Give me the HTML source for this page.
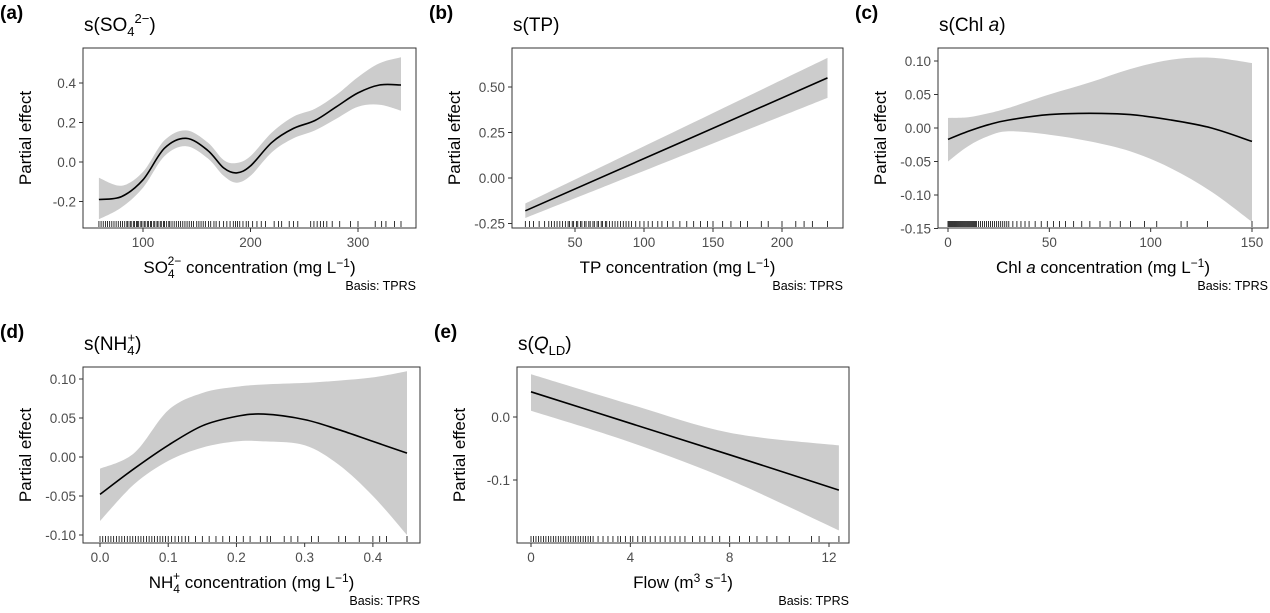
<!DOCTYPE html>
<html><head><meta charset="utf-8"><style>
body{margin:0;background:#fff;width:1270px;height:608px;overflow:hidden}
svg{font-family:"Liberation Sans",Arial,sans-serif}
.tk{fill:#4d4d4d;font-size:13.5px}
.ax{fill:#000;font-size:17px}
.tt{fill:#000;font-size:19px}
.pl{fill:#000;font-size:19px;font-weight:bold}
.bs{fill:#000;font-size:12.5px}
</style></head><body>
<svg id="c" width="1270" height="608" xmlns="http://www.w3.org/2000/svg"></svg>
<script>
// Panel (a) SO4
const aX=[59,80,100,120,140,160,175,187,200,220,240,260,280,300,320,340];
const aFit=[-0.19,-0.175,-0.09,0.07,0.12,0.06,-0.03,-0.055,-0.02,0.1,0.17,0.21,0.28,0.35,0.39,0.39];
const aLo=[-0.29,-0.23,-0.13,0.03,0.08,0.02,-0.07,-0.105,-0.07,0.05,0.12,0.16,0.22,0.28,0.29,0.26];
const aHi=[-0.08,-0.12,-0.05,0.11,0.16,0.1,0.01,-0.005,0.03,0.15,0.23,0.27,0.34,0.43,0.5,0.53];
const aRug=[59,61,63,65,67,69,71,73,75,77,79,81,83,85,86,88,89,91,92,94,95,96,98,99,101,102,104,105,107,108,110,111,113,114,116,117,119,120,122,124,125,127,129,131,133,135,137,139,141,143,145,147,150,152,154,156,158,161,163,166,168,171,175,178,181,184,186,188,190,193,196,198,202,206,210,214,222,226,229,236,240,244,256,259,262,265,268,271,276,283,293,300,316,322,326,334,340];
const aXT=[100,200,300], aYT=[-0.2,0,0.2,0.4];
// Panel (b) TP
const bX=[14,233];
const bFit=[-0.18,0.55];
const bLo=[-0.22,0.44];
const bHi=[-0.14,0.66];
const bRug=[14,17,20,24,28,31,33,35,37,39,41,43,45,46,48,49,51,52,54,55,57,58,60,61,63,64,66,67,69,70,72,73,75,77,79,81,83,85,87,89,91,94,97,100,103,106,110,113,117,121,126,131,136,141,146,150,157,163,170,175,185,190,200,210,216,222,233];
const bXT=[50,100,150,200], bYT=[-0.25,0,0.25,0.5];
// Panel (c) Chl a
const cX=[0,10,20,30,50,70,90,110,130,150];
const cFit=[-0.017,-0.005,0.005,0.012,0.02,0.022,0.02,0.012,0.0,-0.02];
const cLo=[-0.05,-0.027,-0.012,-0.005,-0.01,-0.02,-0.035,-0.06,-0.095,-0.14];
const cHi=[0.015,0.016,0.022,0.03,0.05,0.068,0.088,0.102,0.105,0.097];
const cRug=[0,0.5,1,1.5,2,2.5,3,3.5,4,4.5,5,5.5,6,6.5,7,7.5,8,8.5,9,9.5,10,10.5,11,11.5,12,12.5,13,13.5,14,15,16,17,18,19,20,21,22,23,24,25,26,27,28,29,30,32,34,36,38,40,43,46,49,52,55,58,62,66,70,75,80,85,90,97,103,115,118,128,150];
const cXT=[0,50,100,150], cYT=[-0.15,-0.1,-0.05,0,0.05,0.1];
// Panel (d) NH4
const dX=[0,0.05,0.1,0.15,0.2,0.24,0.3,0.35,0.4,0.45];
const dFit=[-0.048,-0.015,0.015,0.04,0.052,0.055,0.048,0.035,0.02,0.005];
const dLo=[-0.082,-0.035,-0.005,0.012,0.02,0.02,0.015,-0.01,-0.05,-0.1];
const dHi=[-0.015,0.005,0.06,0.082,0.09,0.093,0.095,0.098,0.102,0.11];
const dRug=[0,0.004,0.008,0.012,0.016,0.02,0.024,0.028,0.032,0.036,0.04,0.044,0.048,0.052,0.056,0.06,0.064,0.068,0.072,0.076,0.08,0.084,0.088,0.092,0.096,0.1,0.105,0.11,0.115,0.12,0.125,0.13,0.14,0.15,0.16,0.17,0.18,0.19,0.2,0.21,0.22,0.235,0.245,0.25,0.27,0.28,0.29,0.31,0.32,0.35,0.36,0.38,0.4,0.41,0.42,0.45];
const dXT=[0,0.1,0.2,0.3,0.4], dYT=[-0.1,-0.05,0,0.05,0.1];
// Panel (e) Flow
const eX=[0,4,8,12.4];
const eFit=[0.04,-0.01,-0.06,-0.116];
const eLo=[0.01,-0.04,-0.1,-0.18];
const eHi=[0.068,0.02,-0.025,-0.045];
const eRug=[0,0.1,0.2,0.3,0.4,0.5,0.6,0.7,0.8,0.9,1,1.1,1.2,1.3,1.4,1.5,1.6,1.7,1.8,1.9,2,2.1,2.2,2.3,2.4,2.5,2.7,2.9,3.1,3.3,3.5,3.6,3.8,4,4.1,4.3,4.5,4.6,4.8,5,5.2,5.4,5.6,5.8,6,6.2,6.5,6.8,7,7.3,7.6,8,8.4,8.8,9.1,9.5,9.9,10.4,11.3,11.6,12.4];
const eXT=[0,4,8,12], eYT=[-0.1,0];

const NS='http://www.w3.org/2000/svg';
const svg=document.getElementById('c');
function mk(tag,attrs,parent){const e=document.createElementNS(NS,tag);for(const k in attrs)e.setAttribute(k,attrs[k]);(parent||svg).appendChild(e);return e;}
function lin(d0,d1,p0,p1){return v=>p0+(v-d0)*(p1-p0)/(d1-d0);}
function smooth(pts,start){
 let fd=(start?'M':'L')+pts[0][0].toFixed(1)+','+pts[0][1].toFixed(1);
 for(let i=0;i<pts.length-1;i++){const p0=pts[Math.max(0,i-1)],p1=pts[i],p2=pts[i+1],p3=pts[Math.min(pts.length-1,i+2)];
  fd+='C'+(p1[0]+(p2[0]-p0[0])/6).toFixed(1)+','+(p1[1]+(p2[1]-p0[1])/6).toFixed(1)+' '+(p2[0]-(p3[0]-p1[0])/6).toFixed(1)+','+(p2[1]-(p3[1]-p1[1])/6).toFixed(1)+' '+p2[0].toFixed(1)+','+p2[1].toFixed(1);}
 return fd;}

const panels=[
 {id:'a',L:83,R:416,T:48,B:228,xs:lin(100,300,143,358),ys:lin(0,0.4,162,83),X:aX,F:aFit,Lo:aLo,Hi:aHi,Rug:aRug,XT:aXT,YT:aYT,xd:0,yd:1,
  title:'s(SO<tspan font-size="13" dy="5">4</tspan><tspan font-size="13" dy="-13">2−</tspan><tspan dy="8">)</tspan>',
  xl:'SO<tspan font-size="12" dy="5">4</tspan><tspan font-size="12" dx="-7" dy="-13">2−</tspan><tspan dy="8"> concentration (mg L</tspan><tspan font-size="12" dy="-6">−1</tspan><tspan dy="6">)</tspan>'},
 {id:'b',L:512,R:843,T:48,B:228,xs:lin(50,200,575,782),ys:lin(0,0.5,178,87),X:bX,F:bFit,Lo:bLo,Hi:bHi,Rug:bRug,XT:bXT,YT:bYT,xd:0,yd:2,
  title:'s(TP)',xl:'TP concentration (mg L<tspan font-size="12" dy="-6">−1</tspan><tspan dy="6">)</tspan>'},
 {id:'c',L:938,R:1268,T:48,B:228,xs:lin(0,150,948,1252),ys:lin(0,0.1,128,61),X:cX,F:cFit,Lo:cLo,Hi:cHi,Rug:cRug,XT:cXT,YT:cYT,xd:0,yd:2,
  title:'s(Chl <tspan font-style="italic">a</tspan>)',xl:'Chl <tspan font-style="italic">a</tspan> concentration (mg L<tspan font-size="12" dy="-6">−1</tspan><tspan dy="6">)</tspan>'},
 {id:'d',L:83,R:420,T:367,B:543,xs:lin(0,0.45,100,407),ys:lin(0,0.1,457,379),X:dX,F:dFit,Lo:dLo,Hi:dHi,Rug:dRug,XT:dXT,YT:dYT,xd:1,yd:2,
  title:'s(NH<tspan font-size="13" dy="5">4</tspan><tspan font-size="13" dx="-7" dy="-13">+</tspan><tspan dy="8">)</tspan>',
  xl:'NH<tspan font-size="12" dy="5">4</tspan><tspan font-size="12" dx="-7" dy="-13">+</tspan><tspan dy="8"> concentration (mg L</tspan><tspan font-size="12" dy="-6">−1</tspan><tspan dy="6">)</tspan>'},
 {id:'e',L:517,R:849,T:367,B:543,xs:lin(0,12,531,829),ys:lin(0,-0.1,417,480),X:eX,F:eFit,Lo:eLo,Hi:eHi,Rug:eRug,XT:eXT,YT:eYT,xd:0,yd:1,
  title:'s(<tspan font-style="italic">Q</tspan><tspan font-size="13" dy="5">LD</tspan><tspan dy="-5">)</tspan>',
  xl:'Flow (m<tspan font-size="12" dy="-6">3</tspan><tspan dy="6"> s</tspan><tspan font-size="12" dy="-6">−1</tspan><tspan dy="6">)</tspan>'}
];
panels.forEach(p=>{
 const g=mk('g',{});
 
 
 const pl=mk('text',{x:p.L-83,y:p.T-29,class:'pl'},g);pl.textContent='('+p.id+')';
 
 
 const tt=mk('text',{x:p.L+1,y:p.T-17,class:'tt'},g);tt.innerHTML=p.title;
 
 
 const hi=p.X.map((x,i)=>[p.xs(x),p.ys(p.Hi[i])]);
 const lo=p.X.map((x,i)=>[p.xs(x),p.ys(p.Lo[i])]).reverse();
 const band=mk('path',{d:smooth(hi,true)+smooth(lo,false)+'Z',fill:'#cccccc'},g);
 
 
 const pts=p.X.map((x,i)=>[p.xs(x),p.ys(p.F[i])]);
 const fit=mk('path',{d:smooth(pts,true),fill:'none',stroke:'#000','stroke-width':1.6},g);
 
 
 p.Rug.forEach(r=>{const t=mk('line',{x1:p.xs(r),x2:p.xs(r),y1:p.B-7,y2:p.B-1,stroke:'#000','stroke-width':0.8},g);
  
  });
 const box=mk('rect',{x:p.L,y:p.T,width:p.R-p.L,height:p.B-p.T,fill:'none',stroke:'#333','stroke-width':1},g);
 
 
 p.XT.forEach(v=>{const x=p.xs(v);mk('line',{x1:x,x2:x,y1:p.B,y2:p.B+4,stroke:'#333'},g);
  const t=mk('text',{x:x,y:p.B+19,class:'tk','text-anchor':'middle'},g);t.textContent=v.toFixed(p.xd);
  
  });
 p.YT.forEach(v=>{const y=p.ys(v);mk('line',{x1:p.L-4,x2:p.L,y1:y,y2:y,stroke:'#333'},g);
  const t=mk('text',{x:p.L-7,y:y+5,class:'tk','text-anchor':'end'},g);t.textContent=(Math.abs(v)<1e-9?0:v).toFixed(p.yd);
  
  });
 const xl=mk('text',{x:(p.L+p.R)/2,y:p.B+45,class:'ax','text-anchor':'middle'},g);xl.innerHTML=p.xl;
 
 
 const cy=(p.T+p.B)/2;
 const yl=mk('text',{x:0,y:0,class:'ax','text-anchor':'middle',transform:'translate('+(p.L-52)+','+cy+') rotate(-90)'},g);yl.textContent='Partial effect';
 
 
 const bs=mk('text',{x:p.R,y:p.B+62,class:'bs','text-anchor':'end'},g);bs.textContent='Basis: TPRS';
 
 
});
</script>
</body></html>
